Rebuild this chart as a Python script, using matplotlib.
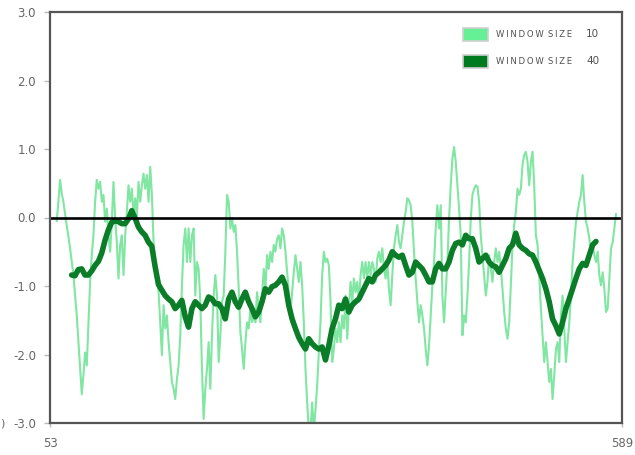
import matplotlib
matplotlib.use("Agg")
import matplotlib.pyplot as plt
from matplotlib.patches import Rectangle
import numpy as np

# rolling mean, window 10 (sampled evenly between the first and last x)
win10_x_range = (59.3, 583.4)
win10 = [
    -0.05, 0.23, 0.55, 0.35, 0.23, 0.05, -0.11, -0.28, -0.45, -0.65,
    -0.84, -1.14, -1.43, -1.82, -2.21, -2.58, -2.30, -1.97, -2.16, -1.53,
    -0.94, -0.55, -0.26, 0.23, 0.55, 0.42, 0.52, 0.23, 0.33, -0.06,
    0.13, -0.26, -0.50, -0.06, 0.52, -0.01, -0.36, -0.89, -0.40, -0.26,
    -0.84, -0.26, 0.08, 0.47, 0.23, 0.42, 0.03, 0.28, 0.03, 0.52,
    0.23, 0.47, 0.64, 0.42, 0.62, 0.23, 0.74, 0.33, -0.36, -0.65,
    -0.85, -1.09, -1.53, -2.01, -1.28, -1.62, -1.43, -1.82, -2.11, -2.40,
    -2.50, -2.65, -2.36, -2.16, -1.72, -0.99, -0.40,
    -0.16, -0.65, -0.16, -0.65, -0.26, -0.16, -1.14, -0.65, -0.75, -1.23,
    -2.21, -2.94, -2.50, -2.21, -1.82, -2.50, -1.72, -1.14, -0.84, -1.14,
    -2.11, -1.72, -1.23, -1.14, -0.50, 0.33, 0.23, -0.16, -0.01, -0.21,
    -0.11, -0.50, -1.04, -1.67, -1.92, -2.21, -1.82, -1.53, -1.62, -1.33,
    -1.53, -1.43, -1.53, -1.09, -1.33, -1.53, -1.14, -0.75, -1.04, -0.55,
    -0.75, -0.50, -0.65, -0.40, -0.50, -0.31, -0.26, -0.45, -0.16, -0.26,
    -0.50, -0.80, -1.09, -1.38, -1.09, -0.80, -0.55, -0.75, -0.94, -0.65,
    -0.99, -1.53, -2.21, -2.70, -3.10, -3.10, -2.70, -3.10, -2.80, -2.45,
    -1.97, -1.53, -0.84, -0.50,
    -0.65, -0.60, -0.70, -1.23, -2.11, -1.92, -1.62, -1.82, -1.53, -1.82,
    -1.43, -1.62, -1.14, -1.77, -1.33, -0.94, -1.23, -0.89, -1.09, -0.94,
    -1.23, -0.84, -0.65, -0.89, -0.65, -0.89, -0.65, -0.84, -0.65, -0.75,
    -0.94, -0.60, -0.50, -0.65, -0.45, -0.75, -0.89, -0.65, -1.04, -1.28,
    -0.84, -0.45, -0.26, -0.11, -0.36, -0.45, -0.26, -0.06, 0.08, 0.28,
    0.25, 0.18, -0.06, -0.50, -0.89, -1.23, -1.53, -1.28, -1.43, -1.62,
    -1.92, -2.16, -1.87, -1.43, -0.99, -0.65, -0.16, 0.18, -0.16, 0.18,
    -1.14, -1.53, -1.09, -0.65, -0.01, 0.47, 0.86, 1.03, 0.81, 0.47,
    0.13, -0.26, -1.72, -1.43,
    -1.53, -1.14, -0.65, -0.01, 0.33, 0.42, 0.47, 0.45, 0.23, -0.26,
    -0.55, -0.84, -1.14, -0.94, -0.55, -0.75, -0.94, -0.65, -0.45, -0.65,
    -0.50, -0.75, -1.04, -1.38, -1.62, -1.77, -1.53, -0.99, -0.40, -0.11,
    0.08, 0.42, 0.33, 0.42, 0.77, 0.91, 0.96, 0.81, 0.47, 0.81,
    0.96, 0.47, -0.26, -0.40, -0.84, -1.33, -1.72, -2.11, -1.82, -2.11,
    -2.40, -2.21, -2.65, -2.31, -1.92, -1.82, -2.11, -1.43, -1.14, -1.62,
    -2.11, -1.82, -1.53, -1.14, -0.65, -0.36, -0.06, 0.08, 0.23, 0.33,
    0.62, 0.23, -0.06, -0.16, -0.31, -0.50, -0.40, -0.55, -0.65, -0.50,
    -0.84, -0.99, -0.80, -1.04, -1.38, -1.33, -0.89, -0.45, -0.36, -0.16,
    0.05,
]

# rolling mean, window 40
win40_x_range = (73.3, 564.6)
win40 = [
    -0.84, -0.85, -0.76, -0.75, -0.84, -0.84, -0.78, -0.70, -0.64, -0.52,
    -0.33, -0.18, -0.07, -0.05, -0.06, -0.09, -0.09, -0.02, 0.10, -0.01,
    -0.14, -0.21, -0.26, -0.36, -0.42, -0.72, -0.98, -1.06, -1.14, -1.19,
    -1.23, -1.33, -1.28, -1.21,
    -1.45, -1.60, -1.33, -1.23, -1.28, -1.33, -1.28, -1.16, -1.19, -1.26,
    -1.26, -1.33, -1.48, -1.19, -1.09, -1.23, -1.31, -1.19, -1.09, -1.23,
    -1.33, -1.45, -1.38, -1.23, -1.04, -1.09, -1.01, -0.99, -0.94, -0.87,
    -0.99, -1.28, -1.48, -1.62, -1.75, -1.84, -1.92, -1.77, -1.84, -1.89,
    -1.92, -1.89,
    -2.08, -1.87, -1.62, -1.48, -1.28, -1.33, -1.19, -1.38, -1.28, -1.23,
    -1.19, -1.09, -0.99, -0.89, -0.94, -0.84, -0.80, -0.75, -0.70, -0.62,
    -0.50, -0.55, -0.58, -0.55, -0.70, -0.84, -0.80, -0.65, -0.70, -0.75,
    -0.84, -0.94, -0.94, -0.75, -0.67, -0.75, -0.75, -0.65, -0.48, -0.38,
    -0.36, -0.40,
    -0.26, -0.31, -0.31, -0.45, -0.65, -0.60, -0.55, -0.65, -0.70, -0.72,
    -0.80, -0.70, -0.60, -0.45, -0.40, -0.23, -0.40, -0.45, -0.48, -0.53,
    -0.55, -0.65, -0.77, -0.89, -1.04, -1.23, -1.48, -1.58, -1.70, -1.53,
    -1.33, -1.19, -1.04, -0.89, -0.75, -0.67, -0.70, -0.55, -0.40, -0.35,
]

series_names = ["WINDOW SIZE", "WINDOW SIZE"]
series_windows = ["10", "40"]

x_ticks = [53, 589]
y_ticks = [-3.0, -2.0, -1.0, 0.0, 1.0, 2.0, 3.0]

light_green = "#80e6a2"
dark_green = "#0b7d29"
axis_grey = "#555555"

W, H = 635, 455
fig = plt.figure(figsize=(W / 100, H / 100), dpi=100)
ax = fig.add_axes([50 / W, 1 - 423 / H, 572 / W, 411 / H])

x10 = np.linspace(win10_x_range[0], win10_x_range[1], len(win10))
x40 = np.linspace(win40_x_range[0], win40_x_range[1], len(win40))

ax.plot(x10, win10, color=light_green, lw=1.5, solid_joinstyle="round")
ax.plot(x40, win40, color=dark_green, lw=4.0, solid_joinstyle="round",
        solid_capstyle="round")
ax.axhline(0, color="black", lw=1.9)

ax.set_xlim(x_ticks[0], x_ticks[-1])
ax.set_ylim(-3.0, 3.0)
ax.set_xticks(x_ticks)
ax.set_yticks(y_ticks)
ax.set_yticklabels([f"{v:.1f}" for v in y_ticks])

for s in ax.spines.values():
    s.set_color(axis_grey)
    s.set_linewidth(1.6)

ax.tick_params(axis="y", colors="#bbbbbb", labelcolor="#666666",
               labelsize=8.5, length=4, width=1, pad=6)
ax.tick_params(axis="x", colors="#bbbbbb", labelcolor="#666666",
               labelsize=8.5, length=3, width=1, pad=7)


# legend: swatch + small spaced caps + window size, laid out in pixels
def px(x, y):
    return x / W, 1 - y / H


def spaced(word):
    return "\u2009".join(word)


swatch_colors = ["#66f096", "#007a1e"]
row_tops = [27.5, 54.5]
for name, win, col, top in zip(series_names, series_windows,
                                swatch_colors, row_tops):
    x0, y0 = px(463, top + 13.5)
    fig.patches.append(Rectangle((x0, y0), 25 / W, 13.5 / H,
                                 transform=fig.transFigure, facecolor=col,
                                 edgecolor="#d0d0d0", lw=1.2))
    label = "\u2002".join(spaced(w) for w in name.split())
    tx, ty = px(496, top + 7)
    fig.text(tx, ty, label, fontsize=6.1, color="#505050",
             va="center", ha="left")
    nx, ny = px(586, top + 6.5)
    fig.text(nx, ny, win, fontsize=7.5, color="#505050",
             va="center", ha="left")

fig.text(0.0, 0.062, ")", fontsize=8, color="#666666")

fig.savefig("out.png", dpi=100)
